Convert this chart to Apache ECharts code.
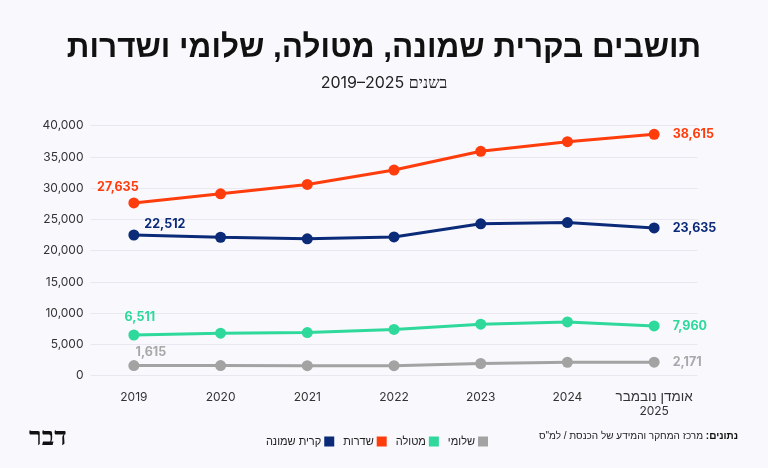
<!DOCTYPE html>
<html>
<head>
<meta charset="utf-8">
<script src="https://cdn.jsdelivr.net/npm/echarts@6/dist/echarts.min.js"></script>
<style>
html,body{margin:0;padding:0;background:#F9F8FD;}
#main{width:768px;height:468px;}
</style>
</head>
<body>
<div id="main"></div>
<script>
const RLE = '\u202B', LRE = '\u202A', PDF = '\u202C';
const categories = ['2019', '2020', '2021', '2022', '2023', '2024', 'אומדן נובמבר\n2025'];
const seriesNames = ['קרית שמונה', 'שדרות', 'מטולה', 'שלומי'];
const kiryatShmona = [22512, 22150, 21900, 22200, 24300, 24500, 23635];
const sderot = [27635, 29100, 30600, 32900, 35900, 37450, 38615];
const metula = [6511, 6800, 6900, 7400, 8250, 8600, 7960];
const shlomi = [1615, 1620, 1610, 1600, 1950, 2150, 2171];
const yTicks = [0, 5000, 10000, 15000, 20000, 25000, 30000, 35000, 40000];

const colors = ['#0B2B79', '#FF3C0C', '#2ED99B', '#A3A3A3'];
const labelColors = ['#0B2B79', '#FF3C0C', '#2ED99B', '#A8A8A8'];
const firstOffsets = [[31, -11], [-16, -16], [6, -18], [17, -13]];
const allData = [kiryatShmona, sderot, metula, shlomi];

const fmt = v => v.toLocaleString('en-US');
const numFont = 'Inter';
const hebFont = '"Liberation Sans"';

const series = allData.map((arr, si) => ({
  name: seriesNames[si],
  type: 'line',
  symbol: 'circle',
  symbolSize: 11,
  lineStyle: { width: 3, color: colors[si] },
  itemStyle: { color: colors[si] },
  z: 10 - si,
  data: arr.map((v, i) => {
    const item = { value: v };
    if (i === 0) {
      item.label = { show: true, position: 'inside', offset: firstOffsets[si], formatter: fmt(v),
        color: labelColors[si], fontFamily: numFont, fontWeight: 'bold', fontSize: 12.5 };
    } else if (i === arr.length - 1) {
      item.label = { show: true, position: 'right', distance: 13, formatter: fmt(v),
        color: labelColors[si], fontFamily: numFont, fontWeight: 'bold', fontSize: 12.5 };
    }
    return item;
  })
}));

const chart = echarts.init(document.getElementById('main'));
chart.setOption({
  backgroundColor: '#F9F8FD',
  animation: false,
  color: colors,
  title: [
    { text: RLE + 'תושבים בקרית שמונה, מטולה, שלומי ושדרות' + PDF, left: 'center', top: 27,
      textStyle: { fontFamily: 'Liberation Sans', fontWeight: 900, fontSize: 31.5, color: '#111' } },
    { text: RLE + 'בשנים ' + LRE + '2019–2025' + PDF + PDF, left: 'center', top: 70,
      textStyle: { fontFamily: 'Inter', fontWeight: 'normal', fontSize: 16, color: '#222' } }
  ],
  grid: { left: 90.5, right: 70.5, top: 125.7, bottom: 92.3, containLabel: false },
  xAxis: {
    type: 'category',
    data: categories,
    boundaryGap: true,
    axisLine: { show: false },
    axisTick: { show: false },
    axisLabel: {
      interval: 0,
      color: '#333', fontFamily: numFont, fontSize: 12, margin: 15, lineHeight: 14,
      formatter: v => {
        const parts = v.split('\n');
        return parts.length > 1 ? '{h|' + parts[0] + '}\n' + parts[1] : v;
      },
      rich: { h: { fontFamily: 'Liberation Sans', fontSize: 13.5, color: '#333', lineHeight: 14 } }
    }
  },
  yAxis: {
    type: 'value',
    min: yTicks[0], max: yTicks[yTicks.length - 1], interval: 5000,
    axisLine: { show: false },
    axisTick: { show: false },
    splitLine: { lineStyle: { color: '#E9E7EF', width: 1 } },
    axisLabel: { color: '#333', fontFamily: numFont, fontSize: 12, margin: 7, formatter: v => fmt(v) }
  },
  legend: {
    right: 275, top: 431,
    align: 'right',
    icon: 'rect', itemWidth: 10, itemHeight: 10, itemGap: 9,
    itemStyle: { borderWidth: 0 },
    data: seriesNames,
    textStyle: { fontFamily: hebFont, fontSize: 11, color: '#222', padding: [0, -2, 0, 0] },
    selectedMode: false
  },
  graphic: [
    { type: 'text', right: 30, top: 431,
      style: { text: RLE + 'מרכז המחקר והמידע של הכנסת / למ"ס' + PDF + ' {b|' + RLE + 'נתונים:' + PDF + '}',
        fill: '#222', font: '10px ' + hebFont,
        rich: { b: { fontWeight: 'bold', fontFamily: hebFont, fontSize: 10, fill: '#111' } } } },
    { type: 'text', left: 29, top: 425,
      style: { text: 'דבר', fill: '#111', font: 'bold 26px "Liberation Serif"' } }
  ],
  series: series
});
</script>
</body>
</html>
